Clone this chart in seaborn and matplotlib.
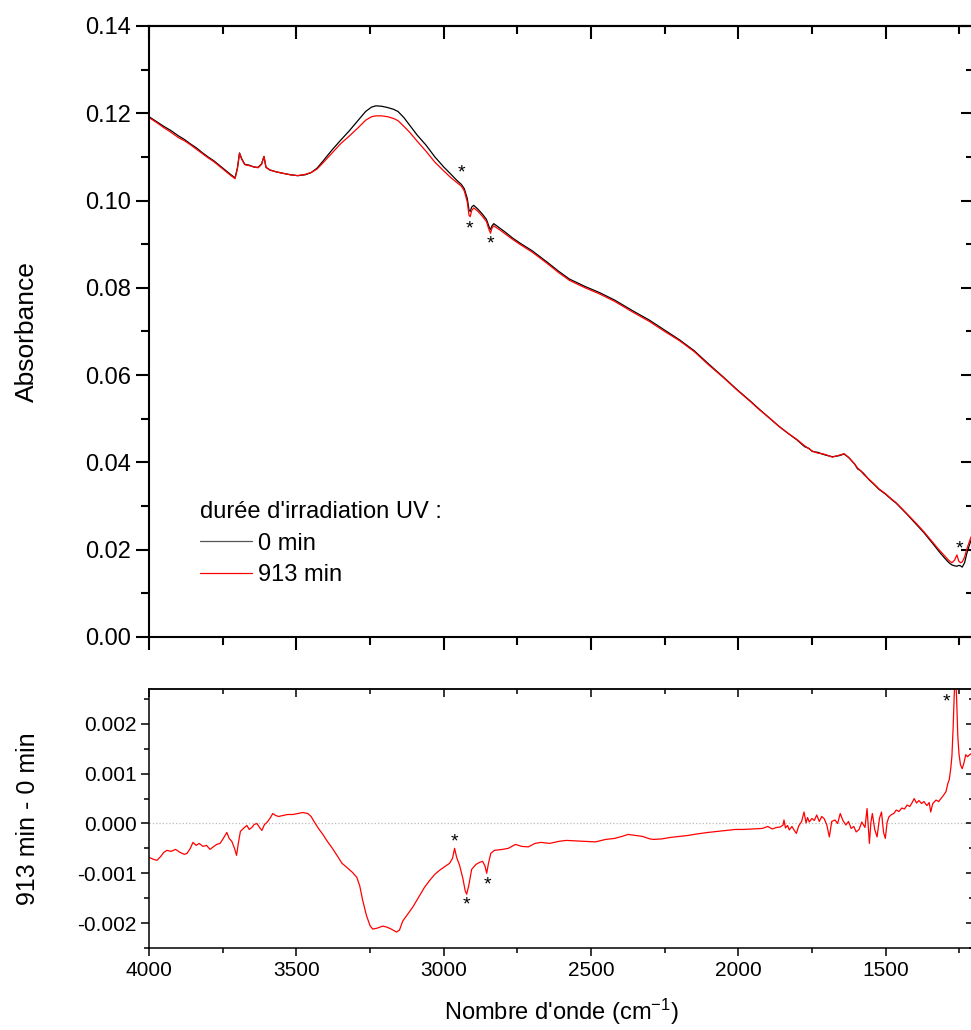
import pandas as pd
import seaborn as sns
import matplotlib.pyplot as plt
from matplotlib.ticker import MultipleLocator, FormatStrFormatter

# ---- données ----
# spectres d'absorbance (panneau du haut)
wn_top = [4000, 3975, 3950, 3925, 3900, 3880, 3860, 3840, 3820, 3800, 3780, 3760, 3740, 3720,
          3708, 3700, 3693, 3685, 3675, 3660, 3645, 3630, 3618, 3610, 3603, 3590, 3570, 3550,
          3520, 3495, 3470, 3450, 3430, 3410, 3380, 3350, 3320, 3290, 3265, 3245, 3230, 3210,
          3190, 3170, 3155, 3135, 3115, 3090, 3060, 3030, 3000, 2975, 2955, 2940, 2930, 2920,
          2914, 2910, 2905, 2898, 2885, 2870, 2855, 2846, 2841, 2836, 2830, 2810, 2790, 2766,
          2740, 2700, 2651, 2610, 2573, 2520, 2471, 2420, 2360, 2302, 2250, 2200, 2150, 2100,
          2050, 2003, 1960, 1929, 1895, 1861, 1830, 1800, 1775, 1760, 1749, 1730, 1715, 1700,
          1681, 1660, 1641, 1625, 1605, 1595, 1585, 1575, 1556, 1540, 1522, 1500, 1480, 1465,
          1430, 1400, 1370, 1340, 1319, 1300, 1285, 1275, 1266, 1258, 1252, 1246, 1240, 1232,
          1225, 1215, 1200]
abs_0min = [0.1192, 0.1181, 0.1170, 0.1160, 0.1148, 0.1140, 0.1130, 0.1121, 0.1110, 0.1100,
            0.1091, 0.1080, 0.1069, 0.1058, 0.1052, 0.1075, 0.1109, 0.1095, 0.1083, 0.1081,
            0.1077, 0.1076, 0.1084, 0.1101, 0.1076, 0.1070, 0.1066, 0.1063, 0.1059, 0.1057,
            0.1059, 0.1064, 0.1074, 0.1090, 0.1115, 0.1138, 0.1160, 0.1184, 0.1204, 0.1214,
            0.1217, 0.1216, 0.1213, 0.1209, 0.1204, 0.1190, 0.1172, 0.1150, 0.1127, 0.1100,
            0.1077, 0.1060, 0.1046, 0.1037, 0.1027, 0.1005, 0.0978, 0.0975, 0.0985, 0.0989,
            0.0981, 0.0970, 0.0957, 0.0940, 0.0933, 0.0942, 0.0947, 0.0937, 0.0927, 0.0914,
            0.0902, 0.0885, 0.0860, 0.0838, 0.0820, 0.0803, 0.0789, 0.0772, 0.0748, 0.0726,
            0.0703, 0.0681, 0.0656, 0.0625, 0.0595, 0.0566, 0.0541, 0.0522, 0.0502, 0.0482,
            0.0466, 0.0451, 0.0436, 0.0432, 0.0425, 0.0423, 0.0419, 0.0416, 0.0413, 0.0415,
            0.0419, 0.0411, 0.0396, 0.0385, 0.0381, 0.0375, 0.0360, 0.0350, 0.0338, 0.0327,
            0.0315, 0.0307, 0.0283, 0.0261, 0.0239, 0.0214, 0.0196, 0.0181, 0.0170, 0.0165,
            0.0163, 0.0162, 0.0164, 0.0163, 0.0160, 0.0170, 0.0190, 0.0212, 0.0240]
abs_913min = [0.1190, 0.1179, 0.1167, 0.1156, 0.1144, 0.1137, 0.1128, 0.1118, 0.1108, 0.1098,
              0.1089, 0.1078, 0.1067, 0.1056, 0.1050, 0.1073, 0.1108, 0.1094, 0.1082, 0.1080,
              0.1077, 0.1075, 0.1083, 0.1101, 0.1076, 0.1070, 0.1066, 0.1063, 0.1059, 0.1057,
              0.1060, 0.1064, 0.1072, 0.1086, 0.1108, 0.1130, 0.1148, 0.1167, 0.1184, 0.1192,
              0.1194, 0.1194, 0.1192, 0.1188, 0.1183, 0.1170, 0.1156, 0.1136, 0.1113, 0.1088,
              0.1068, 0.1052, 0.1041, 0.1033, 0.1022, 0.0997, 0.0966, 0.0963, 0.0977, 0.0983,
              0.0976, 0.0965, 0.0952, 0.0933, 0.0925, 0.0937, 0.0942, 0.0933, 0.0923, 0.0911,
              0.0899, 0.0882, 0.0857, 0.0835, 0.0817, 0.0800, 0.0786, 0.0769, 0.0745, 0.0723,
              0.0700, 0.0679, 0.0654, 0.0623, 0.0594, 0.0565, 0.0540, 0.0521, 0.0502, 0.0482,
              0.0466, 0.0452, 0.0438, 0.0431, 0.0426, 0.0421, 0.0420, 0.0417, 0.0412, 0.0416,
              0.0420, 0.0411, 0.0396, 0.0387, 0.0381, 0.0373, 0.0361, 0.0351, 0.0339, 0.0328,
              0.0316, 0.0308, 0.0284, 0.0263, 0.0241, 0.0217, 0.0200, 0.0186, 0.0175, 0.0170,
              0.0176, 0.0188, 0.0174, 0.0170, 0.0172, 0.0183, 0.0200, 0.0220, 0.0247]

# spectre différence (panneau du bas)
wn_diff = [4000, 3985, 3973, 3960, 3950, 3939, 3925, 3910, 3895, 3880, 3871, 3860, 3851, 3840,
           3830, 3817, 3805, 3793, 3780, 3770, 3759, 3748, 3740, 3736, 3728, 3719, 3710, 3703,
           3697, 3690, 3680, 3668, 3660, 3651, 3643, 3634, 3625, 3617, 3608, 3600, 3590, 3580,
           3570, 3560, 3546, 3530, 3512, 3495, 3478, 3461, 3450, 3440, 3425, 3410, 3397, 3380,
           3360, 3345, 3329, 3310, 3295, 3285, 3275, 3262, 3250, 3241, 3225, 3207, 3193, 3178,
           3160, 3150, 3139, 3122, 3105, 3085, 3065, 3047, 3030, 3014, 2995, 2980, 2970, 2963,
           2956, 2946, 2935, 2927, 2922, 2915, 2905, 2890, 2878, 2868, 2860, 2854, 2848, 2840,
           2828, 2800, 2781, 2756, 2735, 2713, 2690, 2670, 2640, 2610, 2584, 2550, 2520, 2485,
           2450, 2420, 2395, 2374, 2350, 2325, 2300, 2288, 2260, 2230, 2200, 2170, 2140, 2103,
           2070, 2040, 2010, 1982, 1950, 1919, 1900, 1885, 1870, 1857, 1848, 1845, 1840, 1833,
           1827, 1818, 1810, 1803, 1795, 1785, 1777, 1770, 1765, 1759, 1750, 1742, 1734, 1725,
           1717, 1709, 1700, 1691, 1683, 1672, 1663, 1654, 1645, 1635, 1626, 1617, 1608, 1600,
           1590, 1581, 1570, 1563, 1555, 1550, 1545, 1537, 1529, 1521, 1514, 1507, 1501, 1495,
           1489, 1480, 1472, 1464, 1455, 1445, 1436, 1427, 1418, 1410, 1403, 1395, 1387, 1378,
           1370, 1360, 1352, 1347, 1340, 1329, 1320, 1312, 1303, 1295, 1289, 1284, 1279, 1275,
           1271, 1267, 1263, 1259, 1255, 1251, 1246, 1240, 1234, 1228, 1222, 1217, 1210, 1200]
diff_913_0 = [-0.00068, -0.00072, -0.00074, -0.00066, -0.00058, -0.00054, -0.00056, -0.00052,
              -0.00058, -0.00062, -0.00060, -0.00050, -0.00038, -0.00044, -0.00040, -0.00046,
              -0.00044, -0.00052, -0.00046, -0.00042, -0.00040, -0.00030, -0.00022, -0.00018,
              -0.00030, -0.00036, -0.00050, -0.00064, -0.00040, -0.00016, -0.00010, -0.00004,
              -0.00012, -0.00008, -0.00002, 0.00000, -0.00008, -0.00014, -0.00002, 0.00002,
              0.00010, 0.00020, 0.00016, 0.00014, 0.00016, 0.00018, 0.00018, 0.00020,
              0.00022, 0.00020, 0.00014, 0.00004, -0.00010, -0.00022, -0.00034, -0.00048,
              -0.00066, -0.00080, -0.00088, -0.00098, -0.00108, -0.00125, -0.00154, -0.00185,
              -0.00205, -0.00212, -0.00210, -0.00206, -0.00208, -0.00212, -0.00218, -0.00214,
              -0.00196, -0.00182, -0.00168, -0.00148, -0.00128, -0.00114, -0.00102, -0.00094,
              -0.00086, -0.00080, -0.00070, -0.00050, -0.00068, -0.00084, -0.00110, -0.00135,
              -0.00142, -0.00125, -0.00092, -0.00082, -0.00078, -0.00076, -0.00085, -0.00100,
              -0.00080, -0.00060, -0.00054, -0.00052, -0.00050, -0.00042, -0.00046, -0.00047,
              -0.00040, -0.00038, -0.00040, -0.00036, -0.00034, -0.00035, -0.00036, -0.00037,
              -0.00032, -0.00030, -0.00026, -0.00022, -0.00024, -0.00026, -0.00031, -0.00032,
              -0.00031, -0.00028, -0.00026, -0.00024, -0.00021, -0.00018, -0.00016, -0.00014,
              -0.00012, -0.00012, -0.00011, -0.00010, -0.00006, -0.00011, -0.00008, -0.00007,
              -0.00003, 0.00007, -0.00009, -0.00004, -0.00013, -0.00006, -0.00014, -0.00020,
              -0.00005, 0.00004, 0.00023, 0.00001, 0.00012, 0.00003, 0.00010, 0.00006,
              0.00017, 0.00004, 0.00014, 0.00010, -0.00002, -0.00027, 0.00004, 0.00007,
              0.00000, 0.00020, 0.00006, -0.00003, 0.00004, -0.00010, -0.00006, -0.00017,
              -0.00012, 0.00003, -0.00008, 0.00030, -0.00040, 0.00002, 0.00020, -0.00012,
              -0.00027, 0.00010, 0.00023, -0.00018, -0.00030, 0.00002, 0.00013, 0.00018,
              0.00020, 0.00027, 0.00024, 0.00031, 0.00029, 0.00037, 0.00034, 0.00042,
              0.00050, 0.00041, 0.00046, 0.00040, 0.00044, 0.00036, 0.00042, 0.00023,
              0.00040, 0.00047, 0.00044, 0.00050, 0.00057, 0.00064, 0.00080, 0.00088,
              0.00110, 0.00135, 0.00190, 0.00260, 0.00310, 0.00250, 0.00175, 0.00140,
              0.00118, 0.00110, 0.00122, 0.00138, 0.00134, 0.00137, 0.00140, 0.00142]

# astérisques (position des bandes marquées)
stars_top_wn = [2939, 2912, 2841, 1251]
stars_top_y = [0.1070, 0.0942, 0.0907, 0.0209]
stars_diff_wn = [2963, 2922, 2851, 1292]
stars_diff_y = [-0.0003, -0.00158, -0.00118, 0.0025]

# ---- style ----
sns.set_style("ticks")
plt.rcParams['font.family'] = ['Liberation Sans', 'DejaVu Sans']
plt.rcParams['text.color'] = 'black'
plt.rcParams['axes.labelcolor'] = 'black'
plt.rcParams['xtick.color'] = 'black'
plt.rcParams['ytick.color'] = 'black'
plt.rcParams['axes.unicode_minus'] = False
plt.rcParams['mathtext.fontset'] = 'custom'
plt.rcParams['mathtext.rm'] = 'Liberation Sans'
plt.rcParams['mathtext.it'] = 'Liberation Sans:italic'

fig = plt.figure(figsize=(9.71, 10.30), dpi=100)
ax1 = fig.add_axes([0.1535, 0.3816, 0.8496, 0.5932])
ax2 = fig.add_axes([0.1535, 0.0796, 0.8496, 0.2515])

# panneau du haut
sns.lineplot(x=wn_top, y=abs_0min, ax=ax1, color='black', linewidth=0.9, label='0 min')
sns.lineplot(x=wn_top, y=abs_913min, ax=ax1, color='#ff0000', linewidth=0.9, label='913 min')

# panneau du bas
ax2.axhline(0, color='#bbbbbb', linestyle=':', linewidth=0.9, zorder=0)
sns.lineplot(x=wn_diff, y=diff_913_0, ax=ax2, color='#ff0000', linewidth=0.9)


def style_axes(ax, ylim, ymaj, ymin, fmt, fs, spw, lmaj, lmin):
    ax.set_xlim(4000, 1200)
    ax.set_ylim(*ylim)
    ax.xaxis.set_major_locator(MultipleLocator(500))
    ax.xaxis.set_minor_locator(MultipleLocator(250))
    ax.yaxis.set_major_locator(MultipleLocator(ymaj))
    ax.yaxis.set_minor_locator(MultipleLocator(ymin))
    ax.yaxis.set_major_formatter(FormatStrFormatter(fmt))
    for s in ax.spines.values():
        s.set_linewidth(spw)
        s.set_color('black')
    ax.tick_params(which='both', direction='out', width=spw, color='black',
                   labelsize=fs, labelcolor='black')
    ax.tick_params(which='major', length=lmaj)
    ax.tick_params(which='minor', length=lmin)
    # ticks intérieurs en haut et à droite
    top = ax.secondary_xaxis('top')
    top.xaxis.set_major_locator(MultipleLocator(500))
    top.xaxis.set_minor_locator(MultipleLocator(250))
    top.tick_params(which='both', direction='in', width=spw, labeltop=False)
    top.tick_params(which='major', length=lmaj)
    top.tick_params(which='minor', length=lmin)
    top.spines['top'].set_linewidth(spw)
    right = ax.secondary_yaxis('right')
    right.yaxis.set_major_locator(MultipleLocator(ymaj))
    right.yaxis.set_minor_locator(MultipleLocator(ymin))
    right.tick_params(which='both', direction='in', width=spw, labelright=False)
    right.tick_params(which='major', length=lmaj)
    right.tick_params(which='minor', length=lmin)
    right.spines['right'].set_linewidth(spw)


style_axes(ax1, (0, 0.14), 0.02, 0.01, '%.2f', 17, 1.5, 9.5, 5.5)
style_axes(ax2, (-0.0025, 0.0027), 0.001, 0.0005, '%.3f', 15, 1.1, 5.5, 3.5)
ax1.tick_params(axis='x', labelbottom=False)

ax1.set_xlabel('')
ax1.set_ylabel('Absorbance', fontsize=19)
ax1.yaxis.set_label_coords(-0.134, 0.5)
ax2.set_ylabel('913 min - 0 min', fontsize=18)
ax2.yaxis.set_label_coords(-0.132, 0.5)
ax2.set_xlabel("Nombre d'onde (cm$^{-1}$)", fontsize=17)
ax2.xaxis.set_label_coords(0.5, -0.19)

# astérisques
for ax, xs, ys in [(ax1, stars_top_wn, stars_top_y), (ax2, stars_diff_wn, stars_diff_y)]:
    for x, y in zip(xs, ys):
        ax.annotate('*', xy=(x, y), xytext=(0, -5.5), textcoords='offset points',
                    ha='center', va='baseline', fontsize=14, color='black')

# légende
leg = ax1.legend(title="durée d'irradiation UV :", loc='upper left',
                 bbox_to_anchor=(0.062, 0.222), frameon=False, fontsize=17,
                 title_fontsize=17, alignment='left', borderpad=0, borderaxespad=0,
                 handlelength=2.2, handletextpad=0.25, labelspacing=0.4)
for line in leg.get_lines():
    line.set_linewidth(0.9)
leg.get_lines()[0].set_color('#555555')

fig.savefig('out.png', dpi=100)
